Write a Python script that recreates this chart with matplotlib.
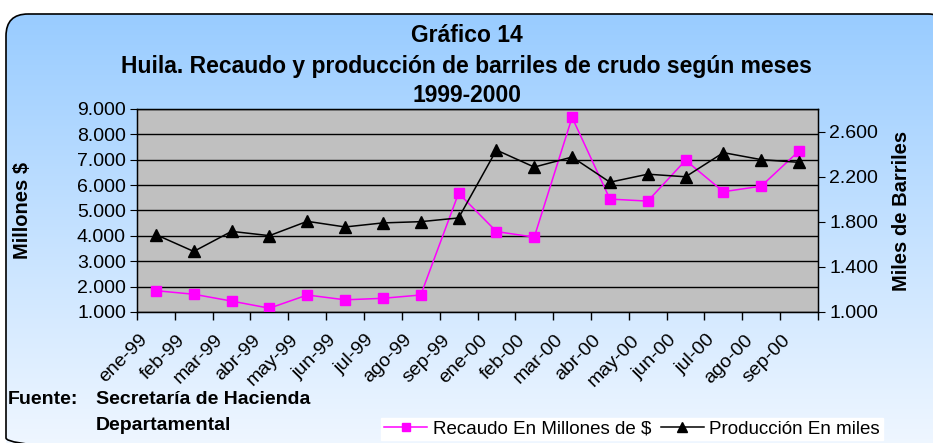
import numpy as np
import matplotlib.pyplot as plt
from matplotlib.patches import FancyBboxPatch
from matplotlib.lines import Line2D

plt.rcParams['font.family'] = ['Liberation Sans', 'DejaVu Sans']

meses = ['ene-99', 'feb-99', 'mar-99', 'abr-99', 'may-99', 'jun-99', 'jul-99', 'ago-99', 'sep-99',
         'ene-00', 'feb-00', 'mar-00', 'abr-00', 'may-00', 'jun-00', 'jul-00', 'ago-00', 'sep-00']
recaudo = [1840, 1700, 1430, 1150, 1670, 1480, 1540, 1670, 5680,
           4170, 3950, 8670, 5450, 5370, 6980, 5740, 5960, 7350]
produccion = [1686, 1537, 1715, 1677, 1804, 1754, 1790, 1801, 1834,
              2436, 2285, 2374, 2151, 2222, 2199, 2413, 2351, 2327]

fig = plt.figure(figsize=(9.33, 4.43), dpi=100)

# fondo con degradado y borde redondeado
bg = fig.add_axes([0, 0, 1, 1], zorder=-10)
bg.set_xlim(0, 933)
bg.set_ylim(443, 0)
bg.axis('off')
grad = np.linspace(0, 1, 256).reshape(-1, 1)
top = np.array([153, 204, 255]) / 255
bot = np.array([242, 248, 255]) / 255
img = top + (bot - top) * grad[..., None]
im = bg.imshow(img, extent=[6, 950, 460, 14], aspect='auto')
box = FancyBboxPatch((6, 14), 944, 446, boxstyle='round,pad=0,rounding_size=22',
                     facecolor='none', edgecolor='black', linewidth=1.2)
bg.add_patch(box)
im.set_clip_path(box)

ax = fig.add_axes([137 / 933, 1 - 312 / 443, 681 / 933, 203 / 443])
ax.set_facecolor('#c0c0c0')
x = np.arange(len(meses))
ax.plot(x, recaudo, color='#ff00ff', marker='s', markersize=7, linewidth=1.1, zorder=3)
ax.set_xlim(-0.5, len(meses) - 0.5)
ax.set_ylim(1000, 9000)
ax.set_yticks(np.arange(1000, 9001, 1000))
ax.set_yticklabels([f'{v // 1000}.000' for v in range(1000, 9001, 1000)], fontsize=14)
ax.grid(axis='y', color='black', linewidth=1)
ax.set_xticks(np.arange(-0.5, len(meses), 1))
ax.set_xticklabels([])
ax.tick_params(axis='x', which='major', length=6, width=1)
ax.tick_params(axis='y', length=5, pad=3)
# etiquetas de meses, giradas 45 grados
for i, m in enumerate(meses):
    ax.text(i - 0.3, -0.125, m, transform=ax.get_xaxis_transform(), rotation=45,
            ha='right', va='center', rotation_mode='anchor', fontsize=14)
for s in ax.spines.values():
    s.set_linewidth(1)
ax.set_ylabel('Millones $', fontsize=14.5, fontweight='bold', labelpad=32)

ax2 = ax.twinx()
ax2.plot(x, produccion, color='black', marker='^', markersize=8.5, linewidth=1.1, zorder=3)
ax2.set_ylim(1000, 2800)
ax2.set_yticks([1000, 1400, 1800, 2200, 2600])
ax2.set_yticklabels(['1.000', '1.400', '1.800', '2.200', '2.600'], fontsize=14)
ax2.tick_params(axis='y', length=5, pad=3)
ax2.set_ylabel('Miles de Barriles', fontsize=14.5, fontweight='bold', labelpad=10)

fig.text(0.5, 1 - 36 / 443, 'Gráfico 14', ha='center', va='center', fontsize=16.5, fontweight='bold')
fig.text(0.5, 1 - 66 / 443, 'Huila. Recaudo y producción de barriles de crudo según meses',
         ha='center', va='center', fontsize=16.5, fontweight='bold')
fig.text(0.5, 1 - 96 / 443, '1999-2000', ha='center', va='center', fontsize=16.5, fontweight='bold')

fig.text(8 / 933, 1 - 399 / 443, 'Fuente:', ha='left', va='center',
         fontsize=14, fontweight='bold')
fig.text(96 / 933, 1 - 399 / 443, 'Secretaría de Hacienda', ha='left', va='center',
         fontsize=14, fontweight='bold')
fig.text(96 / 933, 1 - 425 / 443, 'Departamental', ha='left', va='center',
         fontsize=14, fontweight='bold')

handles = [Line2D([], [], color='#ff00ff', marker='s', markersize=6, linewidth=1.1),
           Line2D([], [], color='black', marker='^', markersize=7, linewidth=1.1)]
fig.legend(handles, ['Recaudo En Millones de $', 'Producción En miles'],
           loc='center', bbox_to_anchor=(632 / 933, 1 - 429 / 443), ncol=2, frameon=True,
           facecolor='white', edgecolor='white', framealpha=1, fancybox=False,
           fontsize=13.5, handlelength=2.3, handletextpad=0.3, columnspacing=0.5,
           borderpad=0.15)

fig.savefig('out.png', dpi=100)
